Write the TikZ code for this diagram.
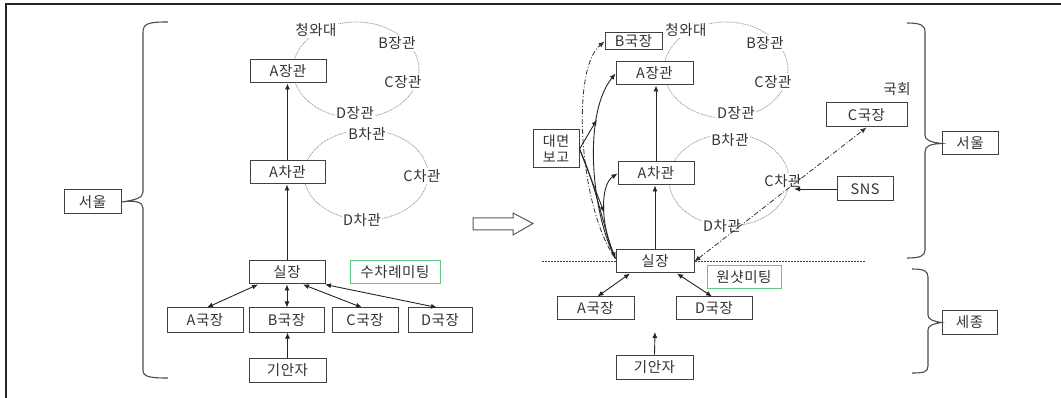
\documentclass[tikz,border=0pt]{standalone}
\usepackage{fontspec}
\setmainfont[LetterSpace=4]{Noto Sans CJK KR}
\usetikzlibrary{arrows.meta,calc}
\definecolor{txt}{HTML}{333333}
\definecolor{boxline}{HTML}{404040}
\definecolor{meetgreen}{HTML}{5FC98A}
\definecolor{ellgray}{HTML}{9A9A9A}
\begin{document}
\begin{tikzpicture}[x=1pt,y=-1pt,
  font=\fontsize{14.5}{16}\selectfont,
  box/.style={draw=boxline,line width=1pt,fill=white,text=txt,inner sep=0pt,minimum height=23pt},
  meetbox/.style={draw=meetgreen,line width=1pt,fill=white,text=txt,inner sep=0pt,minimum height=23pt},
  lbl/.style={fill=white,text=txt,inner sep=1pt},
  ell/.style={draw=ellgray,line width=0.8pt,dash pattern=on 1pt off 0.8pt},
  conn/.style={draw=black!85,line width=0.9pt,-{Latex[length=6pt,width=5pt]}},
  bi/.style={draw=black!85,line width=0.9pt,{Latex[length=6pt,width=5pt]}-{Latex[length=6pt,width=5pt]}},
  dd/.style={draw=black!80,line width=0.8pt,dash pattern=on 5pt off 2pt on 1pt off 2pt},
  brace/.style={draw=black!70,line width=1.1pt},
  hline/.style={draw=black!75,line width=0.8pt,dash pattern=on 2pt off 1pt}]
\useasboundingbox (0,0) rectangle (1061,398);
% frame
\draw[line width=1.6pt,black!85] (6,398) -- (6,4) -- (1061,4);

% ---------------- left diagram ----------------
\draw[ell] (356,70) ellipse [x radius=63pt,y radius=48pt];
\draw[ell] (366,175) ellipse [x radius=62pt,y radius=45pt];
\node[lbl] (lCw) at (316,30) {청와대};
\node[lbl] (lBj) at (397,43) {B장관};
\node[lbl] (lCj) at (403,82) {C장관};
\node[lbl] (lDj) at (355,113) {D장관};
\node[lbl] (lBc) at (367,134) {B차관};
\node[lbl] (lCc) at (422,176) {C차관};
\node[lbl] (lDc) at (362,220) {D차관};

\node[box,minimum width=76pt] (lAj) at (288,71.5) {A장관};
\node[box,minimum width=75pt] (lAc) at (287.5,172.5) {A차관};
\node[box,minimum width=76pt] (lSil) at (287,272.5) {실장};
\node[meetbox,minimum width=90pt] (lMeet) at (395,272) {수차례미팅};
\node[box,minimum width=76pt,minimum height=24pt] (lAk) at (205,320) {A국장};
\node[box,minimum width=75pt,minimum height=24pt] (lBk) at (286.5,320) {B국장};
\node[box,minimum width=66pt,minimum height=24pt] (lCk) at (365,320) {C국장};
\node[box,minimum width=64pt,minimum height=24pt] (lDk) at (440,320) {D국장};
\node[box,minimum width=77pt,minimum height=24pt] (lGi) at (287.5,370) {기안자};
\node[box,minimum width=57pt,minimum height=24pt] (lSeoul) at (92.5,202) {서울};

\draw[conn] (lAc.north) -- (lAc.north |- lAj.south);
\draw[conn] (lSil.north) -- (lSil.north |- lAc.south);
\draw[bi] ([xshift=-29pt]lSil.south) -- ([xshift=2pt]lAk.north);
\draw[bi] (lSil.south) -- (lSil.south |- lBk.north);
\draw[bi] ([xshift=16pt]lSil.south) -- ([xshift=-3pt]lCk.north);
\draw[bi] ([xshift=38pt]lSil.south) -- ([xshift=-3pt]lDk.north);
\draw[conn] (lGi.north) -- (lGi.north |- lBk.south);

\draw[brace] (168,22) .. controls (150,22) and (143,23) .. (143,32) -- (143,192)
  .. controls (143,198) and (135,200) .. (lSeoul.east)
  .. controls (135,200) and (143,202) .. (143,208) -- (143,370)
  .. controls (143,377) and (150,378) .. (168,378);

% hollow arrow
\draw[draw=black!65,line width=1pt,fill=white] (473,218) -- (513,218) -- (513,213) -- (533,223.5) -- (513,235) -- (513,230) -- (473,230) -- cycle;

% ---------------- right diagram ----------------
\draw[ell] (726,70) ellipse [x radius=62pt,y radius=48pt];
\draw[ell] (729,180) ellipse [x radius=60pt,y radius=46pt];
\draw[hline] (542,261) -- (865,261);
\node[lbl] (rCw) at (686,30) {청와대};
\node[lbl] (rBj) at (765,43) {B장관};
\node[lbl] (rCj) at (773,82) {C장관};
\node[lbl] (rDj) at (736,113) {D장관};
\node[lbl] (rBc) at (730,140) {B차관};
\node[lbl] (rCc) at (783,181) {C차관};
\node[lbl] (rDc) at (722,226) {D차관};
\node[lbl] (rGh) at (897,89) {국회};

\node[box,minimum width=57pt,minimum height=17pt] (rBk) at (633.5,41.5) {B국장};
\node[box,minimum width=77pt] (rAj) at (654.5,73.5) {A장관};
\node[box,minimum width=76pt] (rAc) at (656,173.5) {A차관};
\node[box,minimum width=46pt,minimum height=38pt,align=center,font=\fontsize{14}{16}\selectfont] (rRep) at (556,149) {대면\\보고};
\node[box,minimum width=78pt] (rSil) at (655,261.5) {실장};
\node[meetbox,minimum width=74pt] (rMeet) at (744,277.5) {원샷미팅};
\node[box,minimum width=77pt] (rAk) at (595.5,308.5) {A국장};
\node[box,minimum width=76pt] (rDk) at (714,308.5) {D국장};
\node[box,minimum width=77pt,minimum height=24pt] (rGi) at (654.5,367) {기안자};
\node[box,minimum width=81pt,minimum height=24pt] (rCk) at (866.5,115) {C국장};
\node[box,minimum width=56pt,minimum height=24pt] (rSNS) at (865,189) {SNS};
\node[box,minimum width=56pt] (rSeoul) at (970,143.5) {서울};
\node[box,minimum width=55pt] (rSejong) at (969.5,322.5) {세종};

\coordinate (silW) at ([yshift=3pt]rSil.west);
\coordinate (gup) at (655,332);
\coordinate (snsEnd) at (794,189);

\draw[conn] (rAc.north) -- (rAc.north |- rAj.south);
\draw[conn] (rSil.north) -- (rSil.north |- rAc.south);
\draw[bi] ([xshift=-25pt]rSil.south) -- ([xshift=2pt]rAk.north);
\draw[bi] ([xshift=22pt]rSil.south) -- ([xshift=-2pt]rDk.north);
\draw[conn] (rGi.north) -- (gup);
\draw[conn] (rSNS.west) -- (snsEnd);
\draw[dd,{Latex[length=6pt,width=5pt]}-{Latex[length=6pt,width=5pt]}] (rSil.east) -- (rCk.south);

\draw[conn] (silW) .. controls (592,215) and (582,115) .. (rAj.west) coordinate[pos=0.72] (ka);
\draw[conn] (silW) .. controls (600,225) and (600,185) .. (rAc.west) coordinate[pos=0.45] (kb);
\draw[dd,-{Latex[length=6pt,width=5pt]}] (silW) .. controls (580,210) and (570,70) .. (rBk.west);
\draw[conn] (rRep.east) -- (ka);
\draw[conn] (rRep.east) -- (kb);
\draw[conn] (rRep.east) .. controls (596,185) and (604,230) .. (silW);

\draw[brace] (907,23) .. controls (920,23) and (925,25) .. (925,32) -- (925,135)
  .. controls (925,140) and (930,142) .. (rSeoul.west)
  .. controls (930,144) and (925,146) .. (925,152) -- (925,250)
  .. controls (925,256) and (920,258) .. (907,258);
\draw[brace] (912,269) .. controls (924,269) and (928,271) .. (928,277) -- (928,315)
  .. controls (928,319) and (932,321) .. (rSejong.west)
  .. controls (932,324) and (928,326) .. (928,330) -- (928,366)
  .. controls (928,372) and (924,373) .. (912,373);
\end{tikzpicture}
\end{document}
